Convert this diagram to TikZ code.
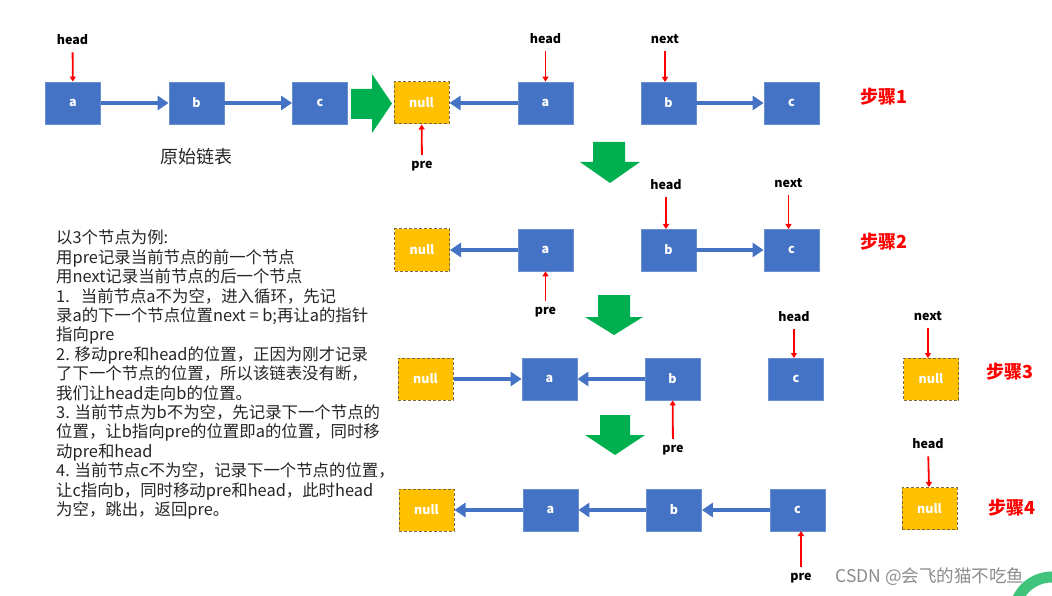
\documentclass[tikz,border=0pt]{standalone}
\usepackage{fontspec}
\setmainfont{Noto Sans CJK SC}
\usetikzlibrary{arrows.meta}
\definecolor{nblue}{HTML}{4472C4}
\definecolor{nborder}{HTML}{6A8FD3}
\definecolor{nyellow}{HTML}{FFC000}
\definecolor{ndash}{HTML}{7F6A3A}
\definecolor{ngreen}{HTML}{00B050}
\definecolor{nred}{HTML}{FF0000}
\definecolor{txtgray}{HTML}{262626}
\tikzset{
  nbox/.style={rectangle, minimum width=55pt, minimum height=42pt, inner sep=0pt,
    fill=nblue, draw=nborder, line width=0.8pt, text=white,
    font=\bfseries\fontsize{12.5}{14}\selectfont},
  nullbox/.style={nbox, fill=nyellow, draw=ndash, dash pattern=on 3pt off 2pt, line width=1pt},
  lnk/.style={draw=nblue, line width=3.6pt, -{Triangle[length=11pt,width=14pt]}},
  ptr/.style={draw=nred, line width=1.8pt, -{Triangle[length=5pt,width=6pt]}},
  lbl/.style={font=\bfseries\fontsize{12.5}{14}\selectfont, inner sep=1pt, text=black},
  steplbl/.style={text=nred, font=\bfseries\fontsize{18}{20}\selectfont, inner sep=0pt},
  garrow/.style={fill=ngreen, draw=none}
}
\begin{document}
\begin{tikzpicture}[x=1pt,y=-1pt]
\useasboundingbox[fill=white] (0,0) rectangle (1052,596);

% ---------- Row 1 ----------
\node[nbox] (a1) at (73,103) {a};
\node[nbox] (b1) at (196.5,103) {b};
\node[nbox] (c1) at (320,103) {c};
\draw[lnk] (a1) -- (b1);
\draw[lnk] (b1) -- (c1);
\node[lbl] (h1) at (72.5,40) {head};
\draw[ptr, shorten <=6pt] (h1) -- (a1);
\node[font=\fontsize{18}{20}\selectfont, text=txtgray] (orig) at (196,157) {原始链表};
\fill[garrow] (351,89) -- (372,89) -- (372,74) -- (392,103.5) -- (372,133) -- (372,119) -- (351,119) -- cycle;

\node[nullbox] (n1) at (421.5,103) {null};
\node[nbox] (a2) at (545.5,103) {a};
\node[nbox] (b2) at (668.5,103) {b};
\node[nbox] (c2) at (791.5,103) {c};
\draw[lnk] (a2) -- (n1);
\draw[lnk] (b2) -- (c2);
\node[lbl] (pre1) at (422,166) {pre};
\draw[ptr, shorten <=5pt] (pre1) -- (n1);
\node[lbl] (h2) at (545.5,39) {head};
\draw[ptr, shorten <=6pt] (h2) -- (a2);
\node[lbl] (nx1) at (665,39) {next};
\draw[ptr, shorten <=6pt] (nx1) -- (665,82);
\node[steplbl] (s1) at (884,97) {步骤1};

% down arrow 1
\fill[garrow] (593,142) -- (625,142) -- (625,162) -- (640,162) -- (610,183) -- (580,162) -- (593,162) -- cycle;

% ---------- Row 2 ----------
\node[nullbox] (n2) at (422,250) {null};
\node[nbox] (a3) at (545.5,250) {a};
\node[nbox] (b3) at (668.5,250) {b};
\node[nbox] (c3) at (791.5,250) {c};
\draw[lnk] (a3) -- (n2);
\draw[lnk] (b3) -- (c3);
\node[lbl] (pre2) at (545.5,312) {pre};
\draw[ptr, shorten <=5pt] (pre2) -- (a3);
\node[lbl] (h3) at (666,185) {head};
\draw[ptr, shorten <=6pt] (h3) -- (666,229);
\node[lbl] (nx2) at (788.5,183) {next};
\draw[ptr, shorten <=6pt] (nx2) -- (788.5,229);
\node[steplbl] (s2) at (884,242) {步骤2};

% down arrow 2
\fill[garrow] (598,295) -- (630,295) -- (630,317) -- (643,317) -- (614,335) -- (585,317) -- (598,317) -- cycle;

% ---------- Row 3 ----------
\node[nullbox] (n3) at (425.5,379) {null};
\node[nbox] (a4) at (549.5,379) {a};
\node[nbox] (b4) at (672.5,379) {b};
\node[nbox] (c4) at (796,379) {c};
\node[nullbox] (n4) at (931,379) {null};
\draw[lnk] (n3) -- (a4);
\draw[lnk] (b4) -- (a4);
\node[lbl] (pre3) at (673,450) {pre};
\draw[ptr, shorten <=5pt] (pre3) -- (b4);
\node[lbl] (h4) at (794,317) {head};
\draw[ptr, shorten <=6pt] (h4) -- (794,358);
\node[lbl] (nx3) at (928,316) {next};
\draw[ptr, shorten <=6pt] (nx3) -- (928,358);
\node[steplbl] (s3) at (1010,372) {步骤3};

% down arrow 3
\fill[garrow] (600,415) -- (630,415) -- (630,435) -- (645,435) -- (615,455) -- (585,435) -- (600,435) -- cycle;

% ---------- Row 4 ----------
\node[nullbox] (n5) at (426.5,510) {null};
\node[nbox] (a5) at (550.5,510) {a};
\node[nbox] (b5) at (674,510) {b};
\node[nbox] (c5) at (797.5,510) {c};
\node[nullbox] (n6) at (929.5,508.5) {null};
\draw[lnk] (a5) -- (n5);
\draw[lnk] (b5) -- (a5);
\draw[lnk] (c5) -- (b5);
\node[lbl] (pre4) at (801,578) {pre};
\draw[ptr, shorten <=5pt] (pre4) -- (801,531);
\node[lbl] (h5) at (928,444) {head};
\draw[ptr, shorten <=6pt] (h5) -- (n6);
\node[steplbl] (s4) at (1012,508) {步骤4};

% ---------- Explanation text ----------
\node[anchor=north west, align=left, inner sep=0pt, text=txtgray,
      font=\fontsize{16.4}{19.4}\selectfont] (expl) at (56,230) {%
以3个节点为例:\\
用pre记录当前节点的前一个节点\\
用next记录当前节点的后一个节点\\
1.\ \ \ 当前节点a不为空，进入循环，先记\\
录a的下一个节点位置next = b;再让a的指针\\
指向pre\\
2. 移动pre和head的位置，正因为刚才记录\\
了下一个节点的位置，所以该链表没有断，\\
我们让head走向b的位置。\\
3. 当前节点为b不为空，先记录下一个节点的\\
位置，让b指向pre的位置即a的位置，同时移\\
动pre和head\\
4. 当前节点c不为空，记录下一个节点的位置，\\
让c指向b，同时移动pre和head，此时head\\
为空，跳出，返回pre。};

% ---------- Watermark ----------
\begin{scope}
\clip (0,0) rectangle (1052,596);
\draw[ngreen!75!white, line width=11pt] (1052,615) circle (38pt);
\end{scope}
\node[text=black!45, font=\fontsize{17.5}{19}\selectfont, inner sep=0pt] (wm) at (930,577) {CSDN @会飞的猫不吃鱼};
\end{tikzpicture}
\end{document}
